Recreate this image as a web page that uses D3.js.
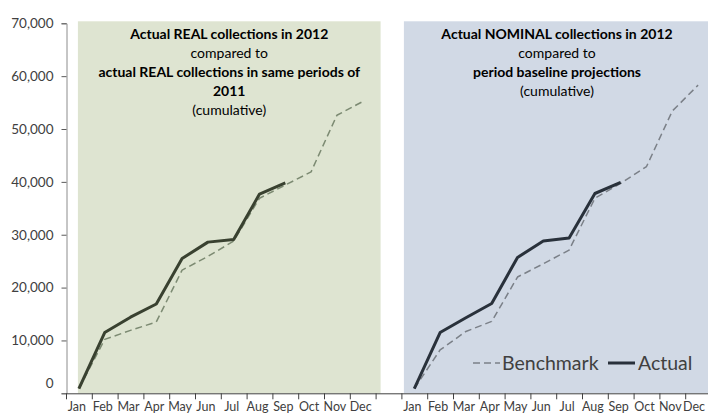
<!DOCTYPE html>
<html>
<head>
<meta charset="utf-8">
<script src="https://cdn.jsdelivr.net/npm/d3@7/dist/d3.min.js"></script>
<style>
  html, body { margin: 0; padding: 0; background: #ffffff; }
  svg { display: block; }
  text { font-family: Lato, "Open Sans", sans-serif; }
</style>
</head>
<body>
<svg id="chart" width="708" height="416"></svg>
<script>
// Month labels for each half of the chart
const months = ["Jan","Feb","Mar","Apr","May","Jun","Jul","Aug","Sep","Oct","Nov","Dec"];

// Left panel: real collections (cumulative)
const realActual    = [900, 11500, 14400, 16900, 25500, 28600, 29100, 37700, 39800];
const realBenchmark = [900, 10200, 11900, 13500, 23300, 25900, 28800, 36900, 39400, 41900, 52600, 55200];

// Right panel: nominal collections vs projections (cumulative)
const nomActual     = [900, 11500, 14300, 17000, 25700, 28800, 29400, 37800, 39900];
const nomBenchmark  = [900, 8200, 11700, 13600, 22000, 24500, 27100, 36900, 39700, 42900, 53400, 58300];

const yTicks = [0, 10000, 20000, 30000, 40000, 50000, 60000, 70000];

const leftTitle = [
  { t: "Actual REAL collections  in 2012", b: true },
  { t: "compared to", b: false },
  { t: "actual REAL collections in same periods of", b: true },
  { t: "2011", b: true },
  { t: "(cumulative)", b: false }
];
const rightTitle = [
  { t: "Actual NOMINAL collections in 2012", b: true },
  { t: "compared to", b: false },
  { t: "period baseline projections", b: true },
  { t: "(cumulative)", b: false }
];

const svg = d3.select("#chart");

// 12 left months + one empty slot + 12 right months
const nCats = 25;
const catLabels = months.concat([""], months);
const x = d3.scaleBand().domain(d3.range(nCats)).range([66, 711]);
const xEdge = d3.scaleLinear().domain([0, nCats]).range([66, 711]);
const y = d3.scaleLinear().domain([0, 70000]).range([393.3, 23.3]);

const leftStart = 0, rightStart = 13;
const cx = i => x(i) + x.bandwidth() / 2;

// panel backgrounds
svg.append("rect")
  .attr("x", cx(leftStart) - 1)
  .attr("y", y(70000) - 2)
  .attr("width", xEdge(12) + 5 - (cx(leftStart) - 1))
  .attr("height", y(0) - y(70000) + 2)
  .attr("fill", "#dee4d1");
svg.append("rect")
  .attr("x", xEdge(13) + 2.5)
  .attr("y", y(70000) - 2)
  .attr("width", 720 - (xEdge(13) + 2.5))
  .attr("height", y(0) - y(70000) + 2)
  .attr("fill", "#d1d9e5");

// y axis
const yAxis = svg.append("g")
  .attr("transform", "translate(66.5,0)")
  .call(d3.axisLeft(y).tickValues(yTicks).tickFormat(d3.format(",")).tickSize(5).tickPadding(8));
yAxis.select(".domain").attr("stroke", "#8c8c8c");
yAxis.selectAll(".tick line").attr("stroke", "#595959");
yAxis.selectAll(".tick text")
  .attr("fill", "#404040")
  .style("font-size", "13.5px")
  .attr("dy", d => d === 0 ? "-0.4em" : "0.32em");

// x axis: tick marks sit between categories
const xTicks = svg.append("g")
  .attr("transform", "translate(0," + y(0) + ")")
  .call(d3.axisBottom(xEdge).tickValues(d3.range(nCats + 1)).tickFormat("").tickSize(6).tickSizeOuter(0));
xTicks.select(".domain").attr("stroke", "#404040");
xTicks.selectAll(".tick line").attr("stroke", "#404040");

const xLabels = svg.append("g")
  .attr("transform", "translate(0," + y(0) + ")")
  .call(d3.axisBottom(x).tickFormat(i => catLabels[i]).tickSize(0).tickPadding(9));
xLabels.select(".domain").remove();
xLabels.selectAll(".tick text")
  .attr("fill", "#404040")
  .style("font-size", "12.5px")
  .attr("dx", (d, i) => i === nCats - 1 ? "-4" : "-2");

// series lines
const line = offset => d3.line()
  .x((d, i) => cx(offset + i))
  .y(d => y(d));

function drawSeries(data, offset, color, width, dash) {
  svg.append("path")
    .datum(data)
    .attr("fill", "none")
    .attr("stroke", color)
    .attr("stroke-width", width)
    .attr("stroke-dasharray", dash || null)
    .attr("stroke-linejoin", "round")
    .attr("d", line(offset));
}

drawSeries(realBenchmark, leftStart, "#7c8a72", 1.5, "7,4");
drawSeries(realActual, leftStart, "#394130", 3);
drawSeries(nomBenchmark, rightStart, "#7b8088", 1.5, "7,4");
drawSeries(nomActual, rightStart, "#29313b", 3);

// panel titles
function drawTitle(lines, centerX) {
  const g = svg.append("g");
  lines.forEach((ln, k) => {
    g.append("text")
      .attr("x", centerX)
      .attr("y", 38.5 + k * 19.2)
      .attr("text-anchor", "middle")
      .attr("fill", "#000")
      .style("font-size", "14px")
      .style("font-weight", ln.b ? "bold" : "normal")
      .text(ln.t);
  });
}
drawTitle(leftTitle, (cx(leftStart) - 1 + xEdge(12) + 5) / 2);
drawTitle(rightTitle, 557);

// legend
const legend = svg.append("g").attr("transform", "translate(473,363)");
legend.append("line")
  .attr("x1", 0).attr("x2", 27).attr("y1", 0).attr("y2", 0)
  .attr("stroke", "#7b8088").attr("stroke-width", 1.5).attr("stroke-dasharray", "7,4");
legend.append("text")
  .attr("x", 29).attr("y", 6.5)
  .attr("fill", "#404040")
  .style("font-size", "19.5px")
  .text("Benchmark");
legend.append("line")
  .attr("x1", 135).attr("x2", 162).attr("y1", 0).attr("y2", 0)
  .attr("stroke", "#29313b").attr("stroke-width", 3);
legend.append("text")
  .attr("x", 165).attr("y", 6.5)
  .attr("fill", "#404040")
  .style("font-size", "19.5px")
  .text("Actual");
</script>
</body>
</html>
